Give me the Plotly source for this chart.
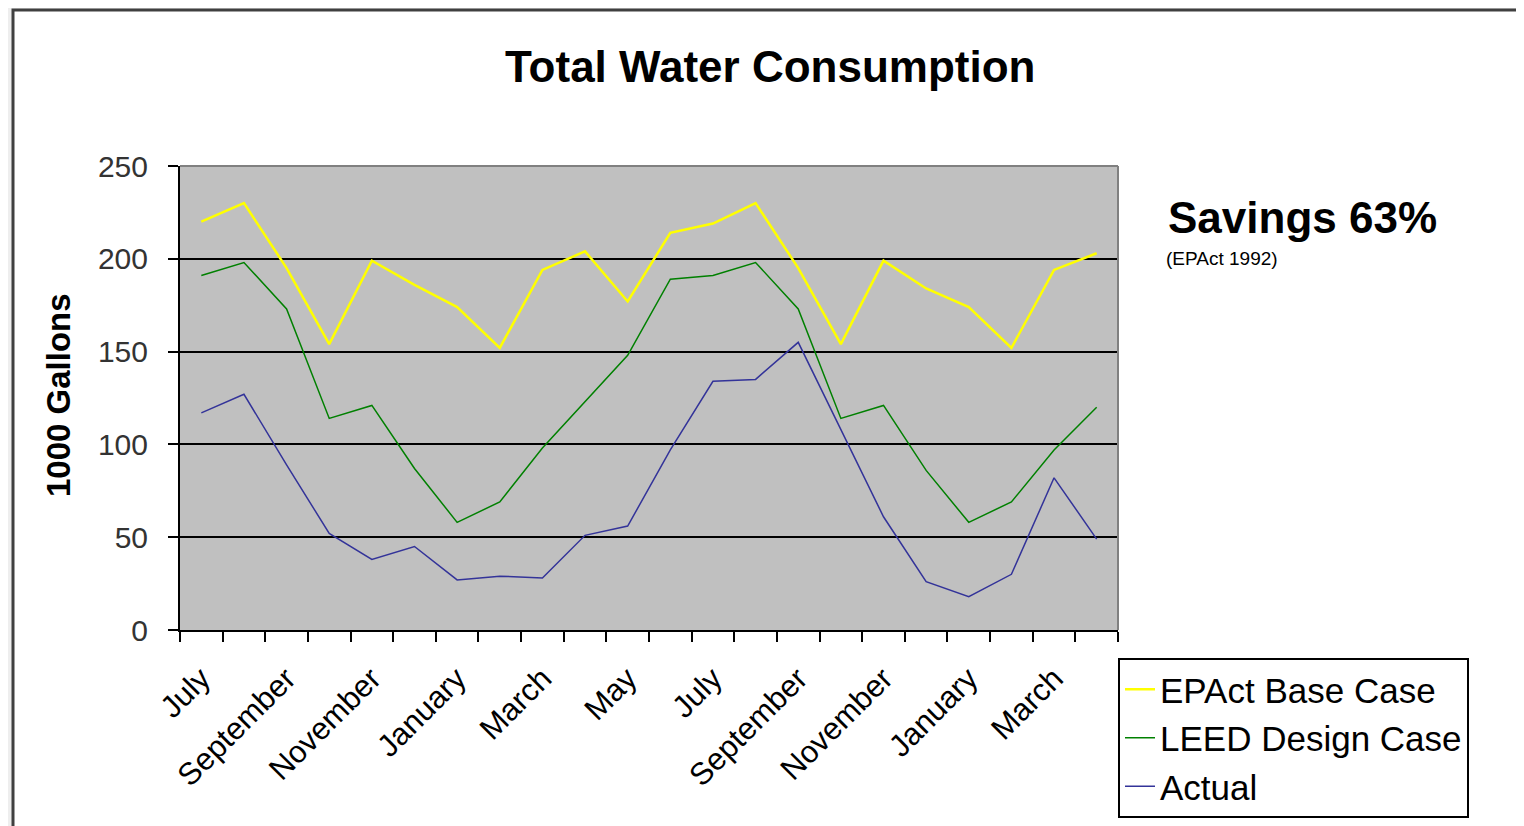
import plotly.graph_objects as go

months = ["July", "August", "September", "October", "November", "December",
          "January", "February", "March", "April", "May", "June",
          "July", "August", "September", "October", "November", "December",
          "January", "February", "March", "April"]

epact_base = [220, 230, 195, 154, 199, 186, 174, 152, 194, 204, 177, 214,
              219, 230, 195, 154, 199, 184, 174, 152, 194, 203]
leed_design = [191, 198, 173, 114, 121, 87, 58, 69, 98, 123, 148, 189,
               191, 198, 173, 114, 121, 86, 58, 69, 97, 120]
actual = [117, 127, 89, 52, 38, 45, 27, 29, 28, 51, 56, 97,
          134, 135, 155, 108, 61, 26, 18, 30, 82, 49]

series = [
    ("EPAct Base Case", epact_base, "#FFFF00", 2.5),
    ("LEED Design Case", leed_design, "#008000", 1.5),
    ("Actual", actual, "#333399", 1.5),
]

FONT = "Liberation Sans, Arial, sans-serif"
# page has an 8px body margin, so the figure is a bit smaller than the window
OFF = 8
W, H = 1524 - OFF, 826 - OFF
L, R, T, B = 180 - OFF, 406, 166 - OFF, 196
pw, ph = W - L - R, H - T - B


def px_x(x):
    # page pixel -> paper coordinate
    return (x - 180) / pw


def px_y(y):
    return (630 - y) / ph


idx = list(range(len(months)))

fig = go.Figure()
for name, vals, color, width in series:
    fig.add_trace(go.Scatter(
        x=idx, y=vals, mode="lines", name=name,
        line=dict(color=color, width=width),
    ))

fig.update_layout(
    width=W, height=H,
    margin=dict(l=L, r=R, t=T, b=B, autoexpand=False),
    paper_bgcolor="white",
    plot_bgcolor="#C0C0C0",
    font=dict(family=FONT, color="#000"),
    showlegend=True,
    legend=dict(
        x=1.0, xanchor="left", y=px_y(658), yanchor="top",
        bgcolor="white", bordercolor="black", borderwidth=2,
        font=dict(size=35, color="#000"),
        tracegroupgap=0,
    ),
    xaxis=dict(
        range=[-0.5, len(months) - 0.5],
        tickmode="array",
        tickvals=idx[::2],
        ticktext=months[::2],
        tickangle=-45,
        ticks="",
        ticklabelstandoff=16,
        tickfont=dict(size=31, color="#000"),
        showgrid=False, zeroline=False,
        showline=True, linecolor="black", linewidth=2,
        minor=dict(
            tickmode="array",
            tickvals=[i - 0.5 for i in range(len(months) + 1)],
            ticks="outside", ticklen=10, tickcolor="black", tickwidth=2,
            showgrid=False,
        ),
    ),
    yaxis=dict(
        range=[0, 250], dtick=50,
        ticks="outside", ticklen=10, tickcolor="black", tickwidth=2,
        ticklabelstandoff=14,
        tickfont=dict(size=30, color="#333"),
        showgrid=False, zeroline=False,
        showline=True, linecolor="black", linewidth=2,
        minor=dict(
            tickmode="array", tickvals=[50, 100, 150, 200],
            showgrid=True, gridcolor="black", gridwidth=2, ticks="",
        ),
    ),
    shapes=[
        dict(type="rect", xref="paper", yref="paper",
             x0=px_x(0), x1=px_x(1530), y0=px_y(10), y1=px_y(0),
             fillcolor="#eeeeee", line=dict(width=0)),
        dict(type="rect", xref="paper", yref="paper",
             x0=px_x(0), x1=px_x(12), y0=px_y(830), y1=px_y(0),
             fillcolor="#eeeeee", line=dict(width=0)),
        dict(type="rect", xref="paper", yref="paper",
             x0=px_x(13), x1=px_x(1540), y0=px_y(900), y1=px_y(10),
             fillcolor="rgba(0,0,0,0)", line=dict(color="#404040", width=3)),
        dict(type="line", xref="paper", yref="paper",
             x0=0, x1=1, y0=1, y1=1, line=dict(color="#808080", width=2)),
        dict(type="line", xref="paper", yref="paper",
             x0=1, x1=1, y0=0, y1=1, line=dict(color="#808080", width=2)),
    ],
    annotations=[
        dict(text="<b>Total Water Consumption</b>", xref="paper", yref="paper",
             x=px_x(770), y=px_y(66), xanchor="center", yanchor="middle",
             showarrow=False, font=dict(size=44, color="#000")),
        dict(text="<b>1000 Gallons</b>", xref="paper", yref="paper",
             x=px_x(58), y=px_y(395), xanchor="center", yanchor="middle",
             textangle=-90, showarrow=False, font=dict(size=33, color="#000")),
        dict(text="<b>Savings 63%</b>", xref="paper", yref="paper",
             x=px_x(1166), y=px_y(217), xanchor="left", yanchor="middle",
             showarrow=False, font=dict(size=44, color="#000")),
        dict(text="(EPAct 1992)", xref="paper", yref="paper",
             x=px_x(1164), y=px_y(258), xanchor="left", yanchor="middle",
             showarrow=False, font=dict(size=19, color="#000")),
    ],
)

fig.write_html("out.html")
